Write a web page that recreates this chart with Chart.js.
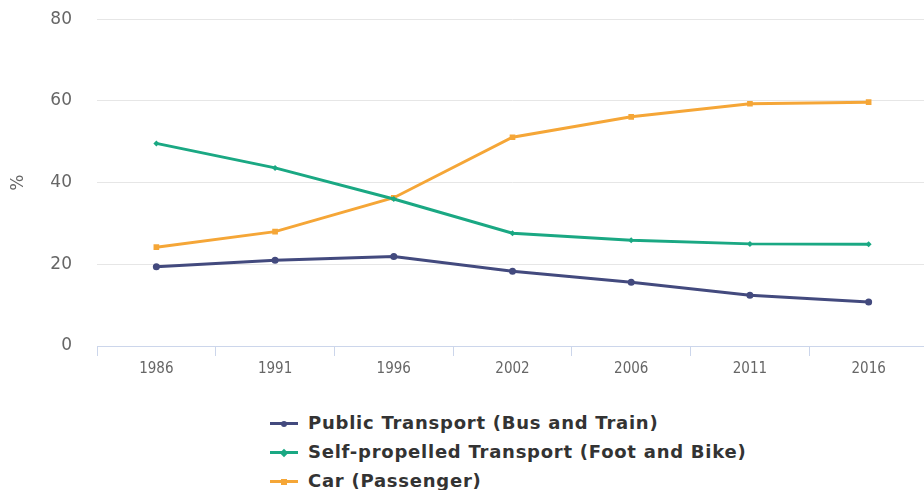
<!DOCTYPE html>
<html>
<head>
<meta charset="utf-8">
<script src="https://cdn.jsdelivr.net/npm/chart.js@4/dist/chart.umd.min.js"></script>
<style>
  html, body { margin: 0; padding: 0; background: #fff; overflow: hidden; width: 924px; height: 490px; }
  #wrap { position: relative; width: 932px; height: 490px; }
  #myChart { position: absolute; left: 0; top: -16px; }
  #legend { position: absolute; left: 270px; top: 411px; font-family: "DejaVu Sans", sans-serif; font-weight: bold; font-size: 18px; letter-spacing: 0.75px; color: #333; }
  .item { height: 29px; line-height: 24px; white-space: nowrap; }
  .mark { display: inline-block; position: relative; width: 28px; height: 24px; vertical-align: top; margin-right: 10px; }
  .mark .ln { position: absolute; left: 0; top: 11px; width: 28px; height: 3px; }
  .mark .pt { position: absolute; left: 11px; top: 9.5px; width: 6px; height: 6px; }
</style>
</head>
<body>
<div id="wrap">
  <canvas id="myChart" width="932" height="402"></canvas>
  <div id="legend"></div>
</div>
<script>
// Data
const years = ["1986", "1991", "1996", "2002", "2006", "2011", "2016"];
const publicTransport = [19.4, 21.0, 21.9, 18.3, 15.6, 12.4, 10.8];
const selfPropelled = [49.6, 43.6, 36.0, 27.6, 25.9, 25.0, 24.9];
const carPassenger = [24.2, 28.0, 36.3, 51.1, 56.1, 59.3, 59.7];
const yTicks = [0, 20, 40, 60, 80];

const series = [
  { label: "Public Transport (Bus and Train)", data: publicTransport, color: "#434a7e", style: "circle", r: 3.5 },
  { label: "Self-propelled Transport (Foot and Bike)", data: selfPropelled, color: "#1aa883", style: "rectRot", r: 3 },
  { label: "Car (Passenger)", data: carPassenger, color: "#f5a637", style: "rect", r: 4 }
];

const ctx = document.getElementById("myChart").getContext("2d");
new Chart(ctx, {
  type: "line",
  data: {
    labels: years,
    datasets: series.map(s => ({
      label: s.label,
      data: s.data,
      borderColor: s.color,
      backgroundColor: s.color,
      borderWidth: 3,
      pointStyle: s.style,
      pointRadius: s.r,
      pointBorderWidth: 0,
      tension: 0
    }))
  },
  options: {
    responsive: false,
    animation: false,
    layout: { padding: { top: 0, left: 0, right: 0, bottom: 4 } },
    plugins: { legend: { display: false }, tooltip: { enabled: false } },
    scales: {
      x: {
        offset: true,
        grid: { drawOnChartArea: false, drawTicks: true, tickLength: 10, offset: true, color: "#ccd6eb" },
        border: { color: "#ccd6eb", width: 1 },
        ticks: { color: "#666", padding: 4, font: { family: "'DejaVu Sans Condensed', 'Liberation Sans', sans-serif", size: 15 } }
      },
      y: {
        min: 0,
        max: 80,
        afterBuildTicks: axis => { axis.ticks = yTicks.map(v => ({ value: v })); },
        afterFit: axis => { axis.width = 97; },
        grid: { color: "#e6e6e6", drawTicks: false },
        border: { display: false },
        ticks: { color: "#666", padding: 25, font: { family: "DejaVu Sans", size: 17 } },
        title: { display: true, text: "%", color: "#666", padding: { top: 8 }, font: { family: "DejaVu Sans", size: 17 } }
      }
    }
  }
});

// Legend as HTML, one item per row
const legend = document.getElementById("legend");
series.forEach(s => {
  const row = document.createElement("div");
  row.className = "item";
  const radius = s.style === "circle" ? "50%" : "0";
  const rot = s.style === "rectRot" ? "transform:rotate(45deg);" : "";
  row.innerHTML = '<span class="mark"><span class="ln" style="background:' + s.color + '"></span>' +
    '<span class="pt" style="background:' + s.color + ';border-radius:' + radius + ';' + rot + '"></span></span>' + s.label;
  legend.appendChild(row);
});
</script>
</body>
</html>
